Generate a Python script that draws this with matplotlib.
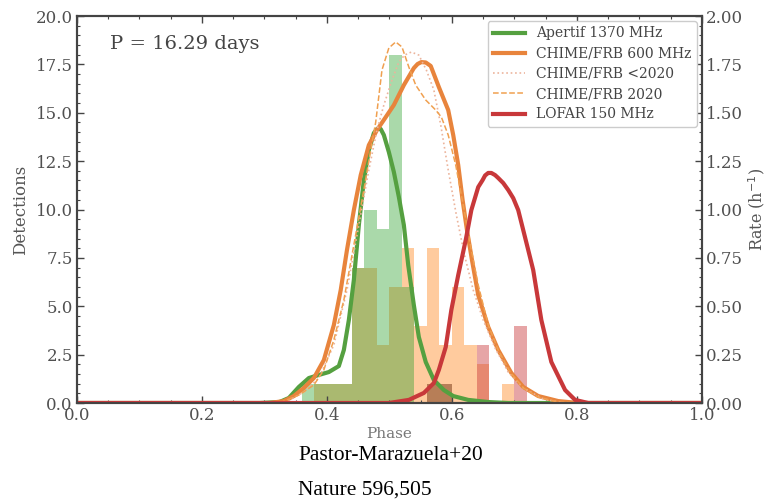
import matplotlib
matplotlib.use("Agg")
import matplotlib.pyplot as plt
from matplotlib.ticker import MultipleLocator, FormatStrFormatter

# histogram bins (left edges, width 0.02) and detection counts
bin_left = [0.36, 0.38, 0.40, 0.42, 0.44, 0.46, 0.48, 0.50, 0.52,
            0.54, 0.56, 0.58, 0.60, 0.62, 0.64, 0.66, 0.68, 0.70]
apertif_counts = [1, 1, 1, 1, 7, 10, 9, 18, 6, 0, 1, 1, 0, 0, 0, 0, 0, 0]
chime_counts = [0, 1, 1, 1, 7, 7, 3, 6, 8, 4, 8, 3, 6, 3, 2, 0, 1, 0]
lofar_counts = [0, 0, 0, 0, 0, 0, 0, 0, 0, 0, 1, 1, 0, 0, 3, 0, 0, 4]

# rate curves (phase, rate in h^-1)
apertif_phase = [0.0, 0.292, 0.324, 0.339, 0.355, 0.371, 0.387, 0.403, 0.419, 0.427,
                 0.435, 0.443, 0.451, 0.459, 0.467, 0.475, 0.480, 0.483, 0.486, 0.491,
                 0.499, 0.507, 0.515, 0.523, 0.530, 0.539, 0.547, 0.558, 0.571, 0.587,
                 0.602, 0.626, 0.658, 0.690, 1.0]
apertif_rate = [0.0, 0.0, 0.005, 0.026, 0.083, 0.129, 0.145, 0.160, 0.191, 0.274,
                0.429, 0.636, 0.920, 1.152, 1.307, 1.395, 1.416, 1.421, 1.416, 1.385,
                1.297, 1.194, 1.065, 0.920, 0.713, 0.506, 0.341, 0.212, 0.119, 0.067,
                0.036, 0.016, 0.005, 0.0, 0.0]

chime_phase = [0.0, 0.308, 0.331, 0.347, 0.363, 0.379, 0.395, 0.411, 0.422, 0.432,
               0.443, 0.454, 0.467, 0.480, 0.491, 0.507, 0.523, 0.539, 0.545, 0.551,
               0.558, 0.566, 0.579, 0.594, 0.602, 0.610, 0.617, 0.624, 0.632, 0.642,
               0.658, 0.674, 0.695, 0.714, 0.738, 0.770, 0.802, 1.0]
chime_rate = [0.0, 0.0, 0.010, 0.036, 0.078, 0.129, 0.222, 0.403, 0.584, 0.791,
              0.997, 1.178, 1.333, 1.411, 1.463, 1.540, 1.643, 1.731, 1.752, 1.762,
              1.760, 1.742, 1.633, 1.514, 1.385, 1.230, 1.049, 0.894, 0.739, 0.558,
              0.393, 0.274, 0.155, 0.083, 0.036, 0.010, 0.0, 0.0]

pre2020_phase = [0.0, 0.332, 0.363, 0.387, 0.411, 0.432, 0.451, 0.467, 0.480, 0.491,
                 0.504, 0.515, 0.524, 0.535, 0.547, 0.559, 0.571, 0.582, 0.594, 0.607,
                 0.620, 0.634, 0.650, 0.669, 0.690, 0.714, 0.746, 0.778, 1.0]
pre2020_rate = [0.0, 0.0, 0.057, 0.129, 0.300, 0.584, 0.920, 1.204, 1.411, 1.540,
                1.669, 1.762, 1.798, 1.814, 1.798, 1.721, 1.618, 1.437, 1.204, 0.972,
                0.765, 0.584, 0.429, 0.284, 0.160, 0.078, 0.021, 0.0, 0.0]

y2020_phase = [0.0, 0.324, 0.355, 0.379, 0.395, 0.411, 0.427, 0.443, 0.459, 0.470,
               0.478, 0.488, 0.499, 0.510, 0.520, 0.531, 0.542, 0.558, 0.574, 0.583,
               0.594, 0.606, 0.618, 0.631, 0.642, 0.658, 0.674, 0.693, 0.714, 0.738,
               0.770, 0.802, 1.0]
y2020_rate = [0.0, 0.0, 0.041, 0.093, 0.171, 0.326, 0.532, 0.817, 1.101, 1.307,
              1.452, 1.721, 1.835, 1.866, 1.840, 1.736, 1.643, 1.566, 1.514, 1.478,
              1.385, 1.230, 1.023, 0.791, 0.610, 0.403, 0.274, 0.160, 0.078, 0.031,
              0.005, 0.0, 0.0]

lofar_phase = [0.0, 0.499, 0.531, 0.555, 0.571, 0.579, 0.590, 0.599, 0.610, 0.622,
               0.631, 0.642, 0.649, 0.653, 0.658, 0.663, 0.669, 0.674, 0.682, 0.690,
               0.698, 0.706, 0.722, 0.730, 0.743, 0.759, 0.781, 0.797, 0.818, 1.0]
lofar_rate = [0.0, 0.0, 0.016, 0.052, 0.103, 0.171, 0.289, 0.481, 0.661, 0.842,
              0.997, 1.116, 1.152, 1.176, 1.189, 1.189, 1.178, 1.163, 1.137, 1.101,
              1.059, 0.997, 0.791, 0.687, 0.429, 0.212, 0.067, 0.016, 0.0, 0.0]

GREEN = "#2ca02c"
ORANGE = "#ff7f0e"
RED = "#c8383a"

plt.rcParams["font.family"] = ["DejaVu Serif"]
TICK_COLOR = "#505050"
SPINE_COLOR = "#444444"

fig = plt.figure(figsize=(7.66, 5.01), dpi=100)
ax = fig.add_axes([0.1005, 0.1956, 0.8159, 0.7724])
ax2 = ax.twinx()

ax.bar(bin_left, chime_counts, width=0.02, align="edge", color=ORANGE, alpha=0.4, linewidth=0)
ax.bar(bin_left, apertif_counts, width=0.02, align="edge", color=GREEN, alpha=0.4, linewidth=0)
ax.bar(bin_left, lofar_counts, width=0.02, align="edge", color=RED, alpha=0.45, linewidth=0)

ax2.plot(apertif_phase, apertif_rate, color="#55a040", lw=3, label="Apertif 1370 MHz")
ax2.plot(chime_phase, chime_rate, color="#e8843c", lw=3, label="CHIME/FRB 600 MHz")
ax2.plot(pre2020_phase, pre2020_rate, color="#ecb49c", lw=1.2, ls=":", label="CHIME/FRB <2020")
ax2.plot(y2020_phase, y2020_rate, color="#f0a050", lw=1.1, ls="--", label="CHIME/FRB 2020")
ax2.plot(lofar_phase, lofar_rate, color="#c8383a", lw=3, label="LOFAR 150 MHz")

ax.set_xlim(0, 1)
ax.set_ylim(0, 20)
ax2.set_ylim(0, 2)
ax.xaxis.set_major_locator(MultipleLocator(0.2))
ax.xaxis.set_minor_locator(MultipleLocator(0.05))
ax.yaxis.set_major_locator(MultipleLocator(2.5))
ax.yaxis.set_minor_locator(MultipleLocator(0.5))
ax2.yaxis.set_major_locator(MultipleLocator(0.25))
ax2.yaxis.set_minor_locator(MultipleLocator(0.05))
ax.yaxis.set_major_formatter(FormatStrFormatter("%.1f"))
ax2.yaxis.set_major_formatter(FormatStrFormatter("%.2f"))

ax.tick_params(axis="x", which="both", direction="in", top=True, colors=SPINE_COLOR,
               labelcolor=TICK_COLOR, labelsize=12, pad=3)
ax.tick_params(axis="y", which="both", direction="in", right=False, colors=SPINE_COLOR,
               labelcolor=TICK_COLOR, labelsize=12, pad=3)
ax2.tick_params(axis="y", which="both", direction="in", colors=SPINE_COLOR,
                labelcolor=TICK_COLOR, labelsize=12, pad=3)
for a in (ax, ax2):
    a.tick_params(which="major", length=5, width=1)
    a.tick_params(which="minor", length=2.5, width=0.8)
    for s in a.spines.values():
        s.set_color(SPINE_COLOR)
        s.set_linewidth(1.5)

ax.set_xlabel("Phase", fontsize=11, color="#777777", labelpad=2)
ax.set_ylabel("Detections", fontsize=12, color="#555555")
ax.yaxis.set_label_coords(-0.077, 0.5)
ax2.set_ylabel("Rate (h$^{-1}$)", fontsize=11.5, color="#555555")
ax2.yaxis.set_label_coords(1.07, 0.5)

ax.text(0.053, 0.928, "P = 16.29 days", transform=ax.transAxes, fontsize=14,
        color="#444444", va="center")

leg = ax2.legend(loc="upper right", fontsize=10, labelspacing=0.45, handlelength=2.3,
                 borderaxespad=0.35, framealpha=1, edgecolor="#cccccc")
for t in leg.get_texts():
    t.set_color("#444444")

fig.text(0.389, 1 - 455 / 501, "Pastor-Marazuela+20", family="Liberation Serif",
         fontsize=15.5, color="black", va="center")
fig.text(0.389, 1 - 490 / 501, "Nature 596,505", family="Liberation Serif",
         fontsize=15.5, color="black", va="center")

fig.savefig("out.png", dpi=100)
